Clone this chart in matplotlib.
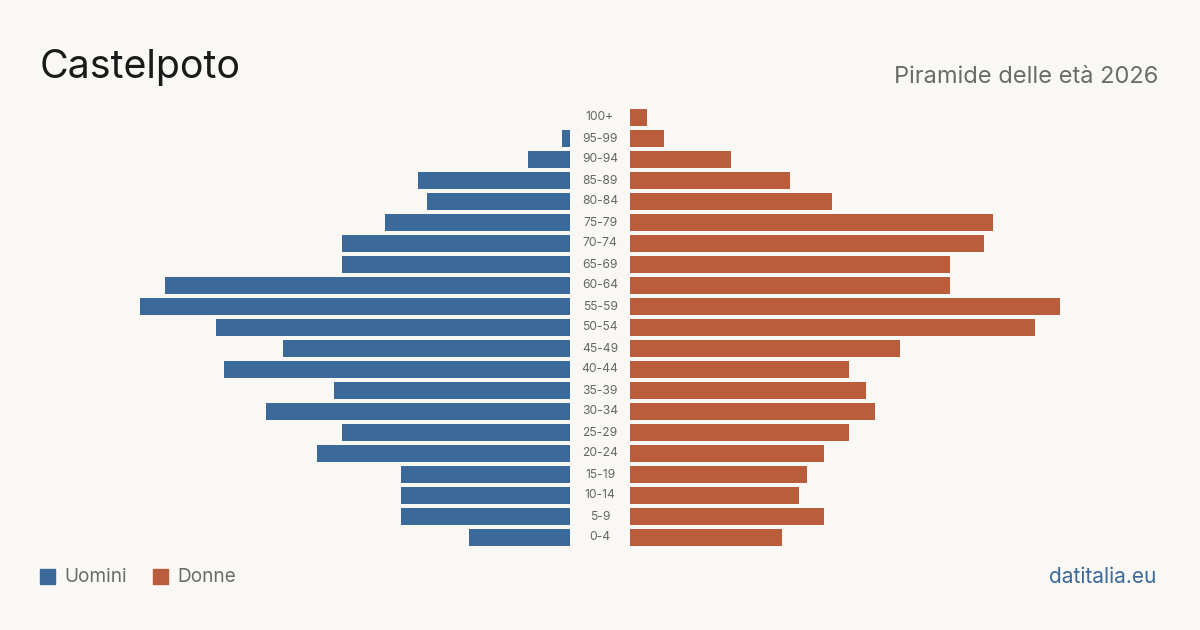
import matplotlib.pyplot as plt

plt.rcParams['font.family'] = ['Inter', 'DejaVu Sans']

# age classes from bottom (0-4) to top (100+)
age_groups = ['0-4', '5-9', '10-14', '15-19', '20-24', '25-29', '30-34', '35-39',
              '40-44', '45-49', '50-54', '55-59', '60-64', '65-69', '70-74',
              '75-79', '80-84', '85-89', '90-94', '95-99', '100+']
men = [12, 20, 20, 20, 30, 27, 36, 28, 41, 34, 42, 51, 48, 27, 27, 22, 17, 18, 5, 1, 0]
women = [18, 23, 20, 21, 23, 26, 29, 28, 26, 32, 48, 51, 38, 38, 42, 43, 24, 19, 12, 4, 2]

bg = '#f9f8f4'
blue = '#3b6a9a'
orange = '#b95d3c'

fig = plt.figure(figsize=(12, 6.3), dpi=100, facecolor=bg)

W, H = 1200, 630
xmax = 51
# axes placed in pixel coordinates of the 1200x630 canvas
top, bottom = 107, 548
ax_l = fig.add_axes([140 / W, (H - bottom) / H, 430 / W, (bottom - top) / H])
ax_r = fig.add_axes([630 / W, (H - bottom) / H, 430 / W, (bottom - top) / H])

ypos = range(len(age_groups))
ax_l.barh(ypos, men, height=0.81, color=blue)
ax_r.barh(ypos, women, height=0.81, color=orange)

ax_l.set_xlim(xmax, 0)
ax_r.set_xlim(0, xmax)
for ax in (ax_l, ax_r):
    ax.set_ylim(-0.5, len(age_groups) - 0.5)
    ax.axis('off')

for i, lab in enumerate(age_groups):
    ax_r.annotate(lab, xy=(0, i), xytext=(-30, 0), textcoords='offset pixels',
                  ha='center', va='center', fontsize=8.7, color='#666666')

fig.text(40 / W, 1 - 68 / H, 'Castelpoto', fontsize=28.3, color='#1a1a1a',
         ha='left', va='center')
fig.text(1158 / W, 1 - 77 / H, 'Piramide delle età 2026', fontsize=17,
         color='#6b6b6b', ha='right', va='center')

# legend
fig.patches.append(plt.Rectangle((40 / W, 1 - 584 / H), 15 / W, 15 / H,
                                 transform=fig.transFigure, color=blue))
fig.text(64 / W, 1 - 577 / H, 'Uomini', fontsize=13.7, color='#6b6b6b',
         ha='left', va='center')
fig.patches.append(plt.Rectangle((153 / W, 1 - 584 / H), 15 / W, 15 / H,
                                 transform=fig.transFigure, color=orange))
fig.text(177 / W, 1 - 577 / H, 'Donne', fontsize=13.7, color='#6b6b6b',
         ha='left', va='center')

fig.text(1156 / W, 1 - 577 / H, 'datitalia.eu', fontsize=15, color=blue,
         ha='right', va='center')

fig.savefig('out.png', dpi=100, facecolor=bg)
